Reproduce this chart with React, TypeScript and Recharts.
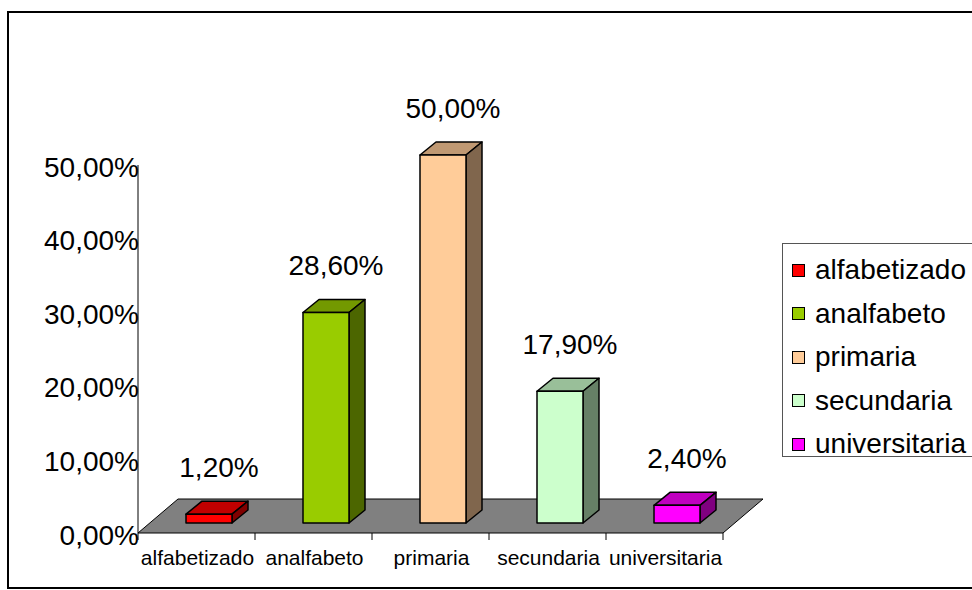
import { BarChart, Bar, XAxis, YAxis, ReferenceArea, LabelList } from 'recharts';

const categories = ['alfabetizado', 'analfabeto', 'primaria', 'secundaria', 'universitaria'];
const percentages = [1.2, 28.6, 50, 17.9, 2.4];
const yTicks = [0, 10, 20, 30, 40, 50];

// face colours per category: front, top (darker), side (darkest)
const FRONT = ['#FF0000', '#99CC00', '#FFCC99', '#CCFFCC', '#FF00FF'];
const TOP = ['#C00000', '#739900', '#C09973', '#99BF99', '#C000C0'];
const SIDE = ['#800000', '#4C6600', '#80664D', '#668066', '#800080'];

const data = categories.map((name, i) => ({ name, value: percentages[i] }));

const FONT = '"Liberation Sans", Arial, sans-serif';
// fake 3d: bars sit a bit back on the floor, floor has its own depth
const SHIFT_X = 12;
const SHIFT_Y = -10;
const DEPTH_X = 16;
const DEPTH_Y = -13;
const FLOOR_X = 40;
const FLOOR_Y = -34;

const fmt = (v: number) => v.toFixed(2).replace('.', ',') + '%';

function Box3D(props: any) {
  const { x, y, width, height, index } = props;
  const fx = x + SHIFT_X;
  const fy = y + SHIFT_Y;
  const top = `${fx},${fy} ${fx + width},${fy} ${fx + width + DEPTH_X},${fy + DEPTH_Y} ${fx + DEPTH_X},${fy + DEPTH_Y}`;
  const side = `${fx + width},${fy} ${fx + width + DEPTH_X},${fy + DEPTH_Y} ${fx + width + DEPTH_X},${fy + height + DEPTH_Y} ${fx + width},${fy + height}`;
  return (
    <g stroke="#000" strokeWidth={1.5} strokeLinejoin="round">
      <polygon points={top} fill={TOP[index]} />
      <polygon points={side} fill={SIDE[index]} />
      <rect x={fx} y={fy} width={width} height={height} fill={FRONT[index]} />
    </g>
  );
}

function Floor(props: any) {
  const { x, y, width, height } = props;
  const fy = y + height;
  const n = categories.length;
  const pts = `${x},${fy} ${x + width},${fy} ${x + width + FLOOR_X},${fy + FLOOR_Y} ${x + FLOOR_X},${fy + FLOOR_Y}`;
  return (
    <g>
      <polygon points={pts} fill="#808080" stroke="#000" strokeWidth={1} />
      {Array.from({ length: n + 1 }, (_, i) => {
        const tx = x + (width * i) / n;
        return <line key={i} x1={tx} y1={fy} x2={tx} y2={fy + 7} stroke="#000" strokeWidth={1} />;
      })}
    </g>
  );
}

function ValueLabel(props: any) {
  const { x, y, width, value } = props;
  return (
    <text
      x={x + width / 2 + SHIFT_X + 10}
      y={y + SHIFT_Y - 47}
      textAnchor="middle"
      dominantBaseline="central"
      fontSize={28}
      fontFamily={FONT}
      fill="#000"
    >
      {fmt(value)}
    </text>
  );
}

function YTick(props: any) {
  const { x, y, payload } = props;
  return (
    <text x={x + 1} y={y + 2} textAnchor="end" dominantBaseline="central" fontSize={28} fontFamily={FONT} fill="#000">
      {fmt(payload.value)}
    </text>
  );
}

function XTick(props: any) {
  const { x, y, payload } = props;
  return (
    <text x={x + 1} y={y + 32} textAnchor="middle" fontSize={21} fontFamily={FONT} fill="#000">
      {payload.value}
    </text>
  );
}

export default function App() {
  return (
    <div
      style={{
        position: 'absolute',
        left: 0,
        top: 0,
        width: 972,
        height: 590,
        overflow: 'hidden',
        background: '#fff',
        fontFamily: FONT,
      }}
    >
      <div
        style={{
          position: 'absolute',
          left: 7,
          top: 11,
          width: 1000,
          height: 578,
          boxSizing: 'border-box',
          border: '2px solid #000',
        }}
      />
      <div style={{ position: 'absolute', left: 0, top: 0 }}>
        <BarChart width={972} height={590} data={data} margin={{ top: 165, right: 249, bottom: 0, left: 0 }}>
          <ReferenceArea
            x1={categories[0]}
            x2={categories[categories.length - 1]}
            y1={0}
            y2={50}
            shape={Floor}
            ifOverflow="visible"
          />
          <XAxis
            dataKey="name"
            height={57}
            axisLine={false}
            tickLine={false}
            tickSize={0}
            tickMargin={0}
            tick={XTick}
            interval={0}
          />
          <YAxis
            width={138}
            domain={[0, 50]}
            ticks={yTicks}
            axisLine={{ stroke: '#000', strokeWidth: 1 }}
            tickLine={false}
            tickSize={0}
            tickMargin={0}
            tick={YTick}
          />
          <Bar dataKey="value" barSize={46} shape={Box3D} isAnimationActive={false}>
            <LabelList dataKey="value" content={ValueLabel} />
          </Bar>
        </BarChart>
      </div>
      <div
        style={{
          position: 'absolute',
          left: 782,
          top: 243,
          width: 220,
          height: 214,
          boxSizing: 'border-box',
          border: '1px solid #555',
          background: '#fff',
        }}
      >
        {categories.map((c, i) => (
          <div
            key={c}
            style={{
              position: 'absolute',
              left: 9,
              top: 26 + i * 43.5 - 17,
              height: 34,
              display: 'flex',
              alignItems: 'center',
              whiteSpace: 'nowrap',
            }}
          >
            <div
              style={{
                width: 13,
                height: 13,
                boxSizing: 'border-box',
                border: '1px solid #000',
                background: FRONT[i],
                marginRight: 10,
              }}
            />
            <span style={{ fontSize: 28, color: '#000', lineHeight: '34px' }}>{c}</span>
          </div>
        ))}
      </div>
    </div>
  );
}
